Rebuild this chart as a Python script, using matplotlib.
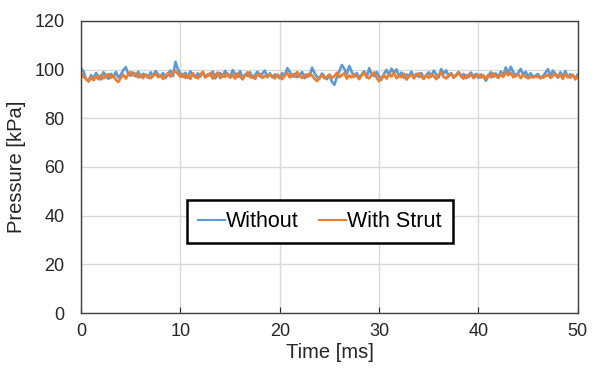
import matplotlib
matplotlib.use('Agg')  # Sin ventanas
import matplotlib.pyplot as plt
import numpy as np

plt.rcParams['font.family'] = ['Liberation Sans', 'DejaVu Sans']

# Colores tipo Excel
COLORES = {
    'without': '#5B9BD5',   # Azul
    'strut': '#ED7D31',     # Naranja
    'grid': '#D9D9D9',
    'texto': '#262626',
}

# Muestreo cada 0.25 ms, de 0 a 50 ms
PASO_MS = 0.25

# Presion sin strut [kPa]
without = [
    100.5, 99.2, 96.0, 95.3, 97.8, 96.5, 98.6, 97.1, 96.0, 98.9, 97.4, 96.2, 98.3, 97.0, 99.0, 96.8, 97.9, 99.8, 101.0, 98.2,
    97.5, 98.8, 97.2, 99.1, 96.9, 98.3, 97.6, 96.7, 98.9, 97.3, 99.4, 98.0, 97.1, 98.6, 96.5, 98.2, 99.6, 97.4, 103.2, 100.1,
    98.4, 97.0, 98.7, 96.6, 99.3, 97.8, 96.9, 98.5, 97.2, 99.0, 96.8, 98.1, 97.5, 99.2, 96.4, 97.9, 98.6, 97.1, 99.5, 97.7,
    96.9, 99.8, 98.2, 97.0, 99.4, 96.6, 98.0, 97.4, 98.9, 96.7, 97.8, 99.1, 97.2, 98.4, 99.6, 97.0, 98.5, 96.8, 98.0, 97.5,
    96.4, 98.6, 97.3, 100.6, 99.2, 97.1, 98.3, 96.9, 97.7, 99.0, 96.5, 98.1, 97.4, 100.8, 98.6, 97.0, 96.3, 98.4, 97.2, 96.1,
    97.8, 95.0, 93.8, 96.9, 99.4, 101.9, 100.3, 98.2, 101.5, 99.0, 97.1, 98.6, 96.7, 97.9, 99.3, 96.8, 100.6, 98.1, 97.4, 99.0,
    97.2, 95.9, 98.4, 99.9, 97.6, 100.4, 98.7, 100.1, 97.3, 98.8, 96.6, 98.0, 97.4, 99.1, 96.9, 98.3, 97.0, 98.6, 96.4, 97.8,
    98.9, 97.1, 99.6, 98.0, 96.8, 100.2, 98.4, 99.7, 97.2, 98.5, 96.7, 97.9, 99.0, 97.3, 98.2, 96.5, 97.7, 98.8, 97.0, 98.3,
    96.6, 98.0, 97.2, 95.4, 97.6, 98.9, 97.0, 98.4, 96.8, 99.2, 97.5, 100.9, 98.3, 101.2, 99.0, 97.4, 98.7, 100.3, 97.8, 99.1,
    97.1, 98.5, 96.9, 97.6, 98.2, 96.4, 97.3, 98.8, 100.2, 97.5, 99.6, 98.0, 96.7, 98.9, 97.2, 99.4, 96.8, 98.1, 97.4, 96.6,
    98.0,
]

# Presion con strut [kPa]
with_strut = [
    98.4, 97.0, 96.2, 95.1, 96.8, 95.6, 97.3, 96.0, 97.8, 96.4, 97.1, 98.2, 96.6, 97.5, 95.8, 94.9, 96.7, 97.9, 96.3, 98.1,
    99.0, 97.6, 98.4, 96.8, 97.9, 96.5, 98.0, 97.2, 96.4, 97.6, 98.3, 96.9, 97.7, 96.2, 97.4, 98.6, 97.1, 98.9, 99.4, 98.2,
    97.0, 98.3, 96.6, 97.8, 96.2, 98.5, 97.1, 96.4, 97.9, 99.1, 96.8, 97.5, 98.6, 96.3, 97.7, 98.8, 96.5, 97.9, 97.0, 98.4,
    96.7, 97.8, 96.3, 98.5, 97.1, 96.0, 97.6, 98.9, 96.8, 97.4, 96.2, 97.9, 98.3, 96.6, 97.5, 96.9, 98.1, 97.3, 96.4, 98.0,
    97.2, 96.1, 97.7, 98.6, 96.8, 98.2, 97.0, 99.0, 97.4, 96.5, 97.9, 96.9, 98.4, 97.6, 96.2, 95.3, 96.7, 97.8, 96.4, 97.1,
    98.0, 96.6, 97.4, 98.7, 96.9, 97.8, 98.5, 96.3, 97.6, 96.8, 98.2, 97.3, 96.1, 97.7, 98.6, 97.0, 96.4, 97.9, 98.8, 96.6,
    95.2, 96.8, 97.7, 96.3, 98.1, 97.2, 98.7, 96.5, 97.4, 96.9, 98.3, 95.9, 97.1, 98.0, 96.4, 97.6, 98.5, 97.0, 96.2, 97.8,
    96.6, 98.2, 97.3, 96.1, 97.9, 98.7, 97.0, 96.4, 97.6, 98.4, 96.8, 97.5, 98.9, 97.2, 96.3, 97.8, 96.9, 98.1, 96.5, 97.4,
    98.0, 96.7, 97.6, 96.2, 97.9, 96.8, 98.5, 97.3, 96.6, 98.1, 97.0, 99.0, 97.7, 98.6, 96.9, 97.4, 98.2, 96.5, 97.8, 97.1,
    96.4, 97.0, 96.8, 97.2, 96.9, 97.1, 96.7, 97.3, 98.0, 96.6, 97.5, 98.4, 96.9, 97.8, 96.2, 98.1, 97.3, 96.7, 97.9, 96.0,
    97.2,
]

x_ticks = [0, 10, 20, 30, 40, 50]
y_ticks = [0, 20, 40, 60, 80, 100, 120]

tiempo = np.arange(len(without)) * PASO_MS

fig = plt.figure(figsize=(5.92, 3.74), dpi=100)
ax = fig.add_axes([0.137, 0.163, 0.839, 0.781])

ax.plot(tiempo, without, color=COLORES['without'], lw=1.9, label='Without')
ax.plot(tiempo, with_strut, color=COLORES['strut'], lw=1.9, label='With Strut')

ax.set_xlim(0, 50)
ax.set_ylim(0, 120)
ax.set_xticks(x_ticks)
ax.set_yticks(y_ticks)
ax.grid(True, color=COLORES['grid'], lw=1)
ax.set_axisbelow(True)

for lado in ax.spines.values():
    lado.set_color('#404040')
    lado.set_linewidth(1)

ax.tick_params(axis='x', direction='in', length=4, pad=7, labelsize=13, colors=COLORES['texto'])
ax.tick_params(axis='y', length=0, pad=12, labelsize=13, colors=COLORES['texto'])

ax.set_xlabel('Time [ms]', fontsize=14.5, color=COLORES['texto'], labelpad=2)
ax.set_ylabel('Pressure [kPa]', fontsize=14.5, color=COLORES['texto'], labelpad=6)

leyenda = ax.legend(loc='center', bbox_to_anchor=(0.481, 0.313), ncol=2, fontsize=15.5,
                    handlelength=1.25, handletextpad=0.05, columnspacing=0.95,
                    fancybox=False, framealpha=1, borderpad=0.5, borderaxespad=0)
leyenda.get_frame().set_edgecolor('black')
leyenda.get_frame().set_linewidth(1.8)
for linea in leyenda.get_lines():
    linea.set_linewidth(1.5)

fig.savefig('out.png', dpi=100, facecolor='white')
plt.close(fig)
